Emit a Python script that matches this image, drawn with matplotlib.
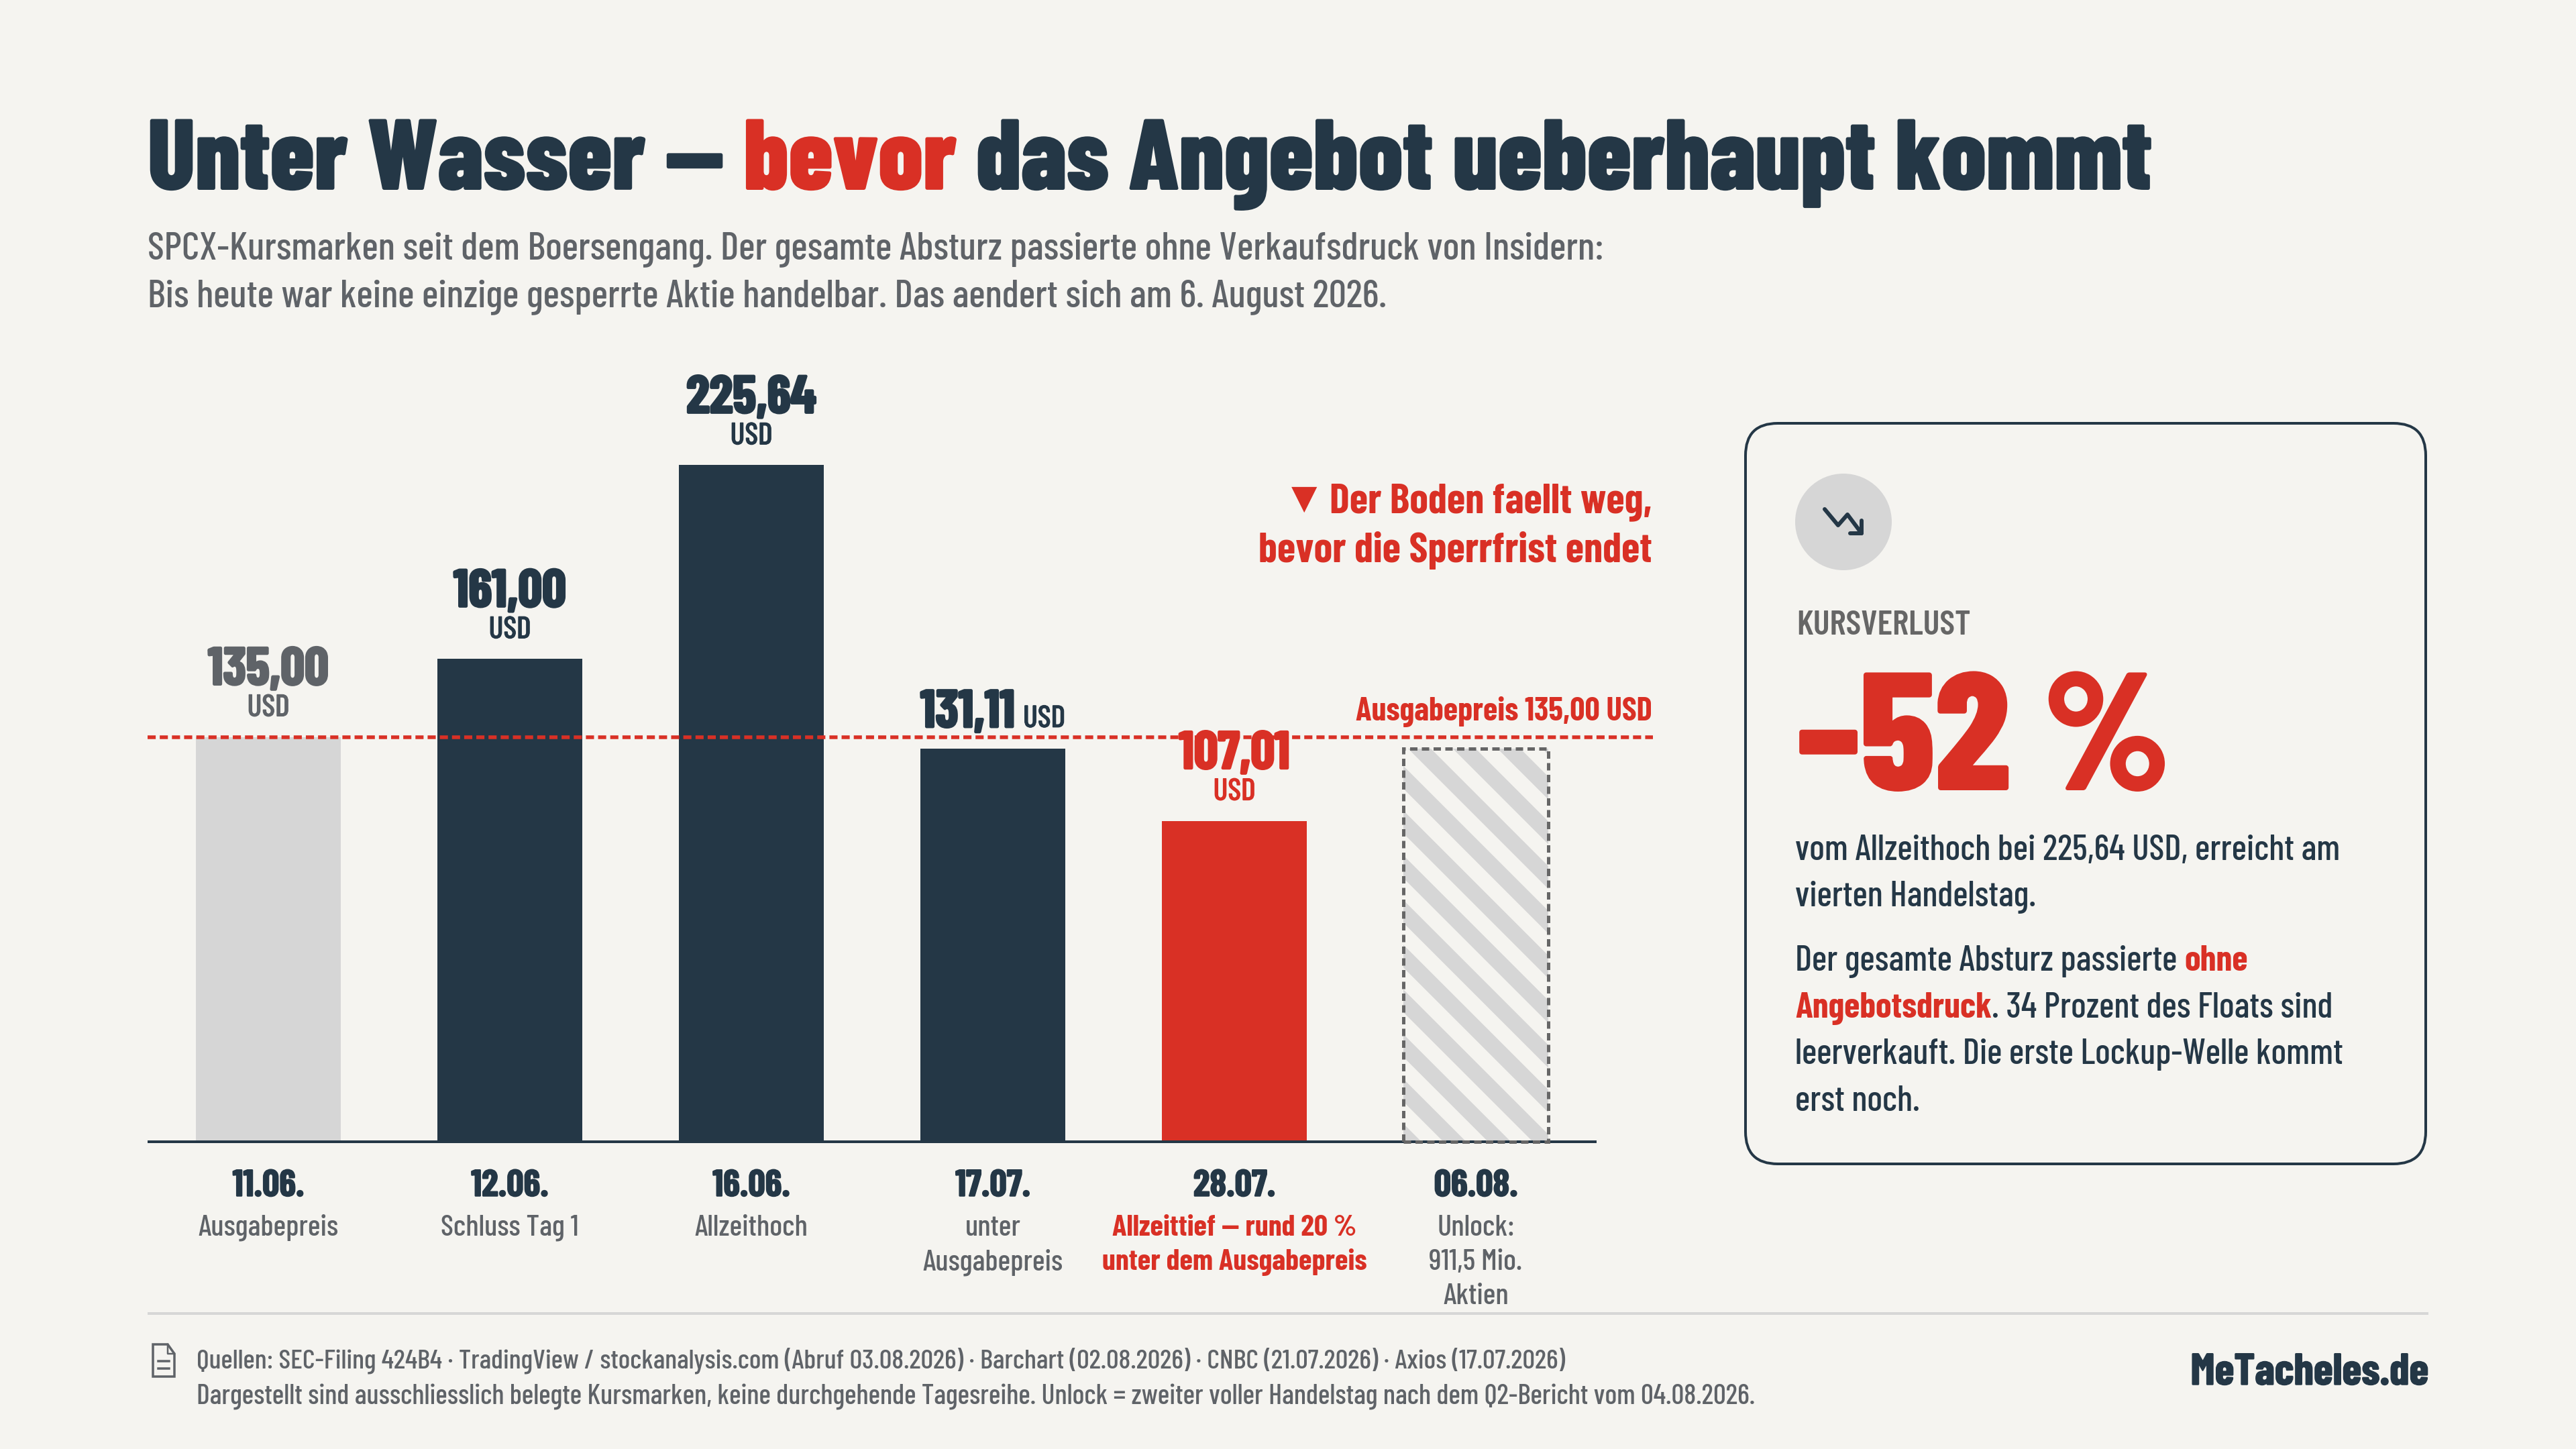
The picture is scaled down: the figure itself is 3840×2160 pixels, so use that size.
import matplotlib
matplotlib.use("Agg")
import matplotlib.pyplot as plt
import matplotlib.patheffects as pe
from matplotlib.patches import FancyBboxPatch, Circle, Polygon

# data
dates = ["11.06.", "12.06.", "16.06.", "17.07.", "28.07.", "06.08."]
prices = [135.00, 161.00, 225.64, 131.11, 107.01, 131.11]
price_labels = ["135,00", "161,00", "225,64", "131,11", "107,01", ""]
sub_labels = ["Ausgabepreis", "Schluss Tag 1", "Allzeithoch", "unter\nAusgabepreis",
              "Allzeittief — rund 20 %\nunter dem Ausgabepreis", "Unlock:\n911,5 Mio.\nAktien"]
issue_price = 135.00

DARK = "#243746"
RED = "#d93025"
BG = "#f5f4f0"
LIGHT = "#d6d6d6"
GREY = "#5f6368"

DPI = 400
PX = 72 / DPI  # one pixel of the 3840x2160 picture in points
plt.rcParams["font.family"] = ["Barlow Condensed", "Roboto Condensed", "DejaVu Sans"]
plt.rcParams["hatch.linewidth"] = 24 * PX

fig = plt.figure(figsize=(9.6, 5.4), dpi=DPI, facecolor=BG)

# overlay in picture pixels for all the layout text
page = fig.add_axes([0, 0, 1, 1])
page.set_xlim(0, 3840)
page.set_ylim(2160, 0)
page.axis("off")

# chart axes, 4.47 px per USD
base_y = 1702
top_y = 600
ax = fig.add_axes([220 / 3840, 1 - base_y / 2160, 2160 / 3840, (base_y - top_y) / 2160])
ax.patch.set_alpha(0)
ax.set_xlim(-0.5, 5.5)
ax.set_ylim(0, (base_y - top_y) / 4.47)
ax.set_xticks([])
ax.set_yticks([])
for s in ["top", "left", "right"]:
    ax.spines[s].set_visible(False)
ax.spines["bottom"].set_color(DARK)
ax.spines["bottom"].set_linewidth(4 * PX)
ax.spines["bottom"].set_capstyle("butt")

colors = [LIGHT, DARK, DARK, DARK, RED]
ax.bar(range(5), prices[:5], width=0.6, color=colors, linewidth=0, zorder=2)
ax.bar(5, prices[5], width=0.6, facecolor="none", edgecolor=LIGHT, hatch="\\\\", linewidth=0, zorder=2)
ax.bar(5, prices[5], width=0.6, facecolor="none", edgecolor="#666666", linewidth=5 * PX,
       linestyle=(0, (2.2, 1.3)), zorder=3, clip_on=False)
ax.plot([-0.5, 5.733], [issue_price, issue_price], color=RED, lw=5.5 * PX,
        linestyle=(0, (2.2, 1.1)), clip_on=False, zorder=4)


def label(x, y, txt, dy, size, color, weight="bold", stroke=0, dx=0, ha="center"):
    t = ax.annotate(txt, xy=(x, y), xytext=(dx * PX, dy * PX), textcoords="offset points",
                    ha=ha, va="baseline", fontsize=size * PX, color=color, weight=weight,
                    annotation_clip=False, zorder=6)
    if stroke:
        t.set_path_effects([pe.withStroke(linewidth=stroke * PX, foreground=color)])
    return t


value_colors = [GREY, DARK, DARK, DARK, RED]
for i in [0, 1, 2, 4]:
    label(i, prices[i], price_labels[i], 78, 79, value_colors[i], stroke=3)
    label(i, prices[i], "USD", 31, 46, value_colors[i], weight=500, stroke=1)
label(3, prices[3], price_labels[3], 32, 79, DARK, stroke=3, dx=-108, ha="left")
label(3, prices[3], "USD", 32, 46, DARK, weight=500, stroke=1, dx=108, ha="right")

for i in range(6):
    label(i, 0, dates[i], -81, 56, DARK, stroke=1.5)
    is_red = i == 4
    for j, line in enumerate(sub_labels[i].split("\n")):
        label(i, 0, line, -140 - 51 * j, 44.6, RED if is_red else GREY,
              weight="bold" if is_red else 500)


def put(x, y, txt, size, color, weight=500, ha="left", stroke=0):
    t = page.text(x, y, txt, fontsize=size * PX, color=color, weight=weight, ha=ha, va="baseline")
    if stroke:
        t.set_path_effects([pe.withStroke(linewidth=stroke * PX, foreground=color)])
    return t


def text_width(txt, size, weight):
    t = page.text(0, 0, txt, fontsize=size * PX, weight=weight)
    w = t.get_window_extent(fig.canvas.get_renderer()).width
    t.remove()
    return w


def runs(x, y, parts, size, stroke=0):
    # several colours and weights on one line
    off = 0
    for txt, color, weight in parts:
        put(x + off, y, txt, size, color, weight, stroke=stroke)
        off += text_width(txt + "x", size, weight) - text_width("x", size, weight)


# header
runs(220, 282, [("Unter Wasser — ", DARK, 800), ("bevor", RED, 800),
                (" das Angebot ueberhaupt kommt", DARK, 800)], 148, stroke=2)
put(220, 386, "SPCX-Kursmarken seit dem Boersengang. Der gesamte Absturz passierte ohne Verkaufsdruck von Insidern:", 58.2, GREY)
put(220, 457, "Bis heute war keine einzige gesperrte Aktie handelbar. Das aendert sich am 6. August 2026.", 58.2, GREY)

# annotations in the chart
put(1963, 758, "▼", 50, RED, "bold", "right")
put(2463, 764, "Der Boden faellt weg,", 62.6, RED, "bold", "right")
put(2463, 838, "bevor die Sperrfrist endet", 62.6, RED, "bold", "right")
put(2463, 1074, "Ausgabepreis 135,00 USD", 49, RED, "bold", "right")

# card
page.add_patch(FancyBboxPatch((2602 + 48, 631 + 48), 1014 - 96, 1104 - 96,
                              boxstyle="round,pad=48,rounding_size=48",
                              fc="none", ec=DARK, lw=4 * PX))
page.add_patch(Circle((2748, 778), 72, fc=LIGHT, ec="none"))
page.plot([2720, 2740, 2754, 2775], [759, 783, 767, 795], color=DARK, lw=6 * PX,
          solid_capstyle="round", solid_joinstyle="round")
page.plot([2775, 2775, 2758], [776, 795, 795], color=DARK, lw=6 * PX,
          solid_capstyle="round", solid_joinstyle="round")
put(2678, 946, "KURSVERLUST", 52, "#666666", 600)
put(2678, 1177, "–52 %", 248, RED, 800, stroke=2)
put(2676, 1282, "vom Allzeithoch bei 225,64 USD, erreicht am", 53.4, DARK)
put(2676, 1351, "vierten Handelstag.", 53.4, DARK)
runs(2676, 1447, [("Der gesamte Absturz passierte ", DARK, 500), ("ohne", RED, "bold")], 53.4)
runs(2676, 1517, [("Angebotsdruck", RED, "bold"), (". 34 Prozent des Floats sind", DARK, 500)], 53.4)
put(2676, 1586, "leerverkauft. Die erste Lockup-Welle kommt", 53.4, DARK)
put(2676, 1656, "erst noch.", 53.4, DARK)

# footer
page.plot([220, 3620], [1958, 1958], color=LIGHT, lw=4 * PX, solid_capstyle="butt")
page.add_patch(Polygon([(228, 2004), (250, 2004), (260, 2018), (260, 2052), (228, 2052)],
                       closed=True, fc="none", ec=GREY, lw=3.5 * PX))
page.plot([250, 250, 260], [2004, 2018, 2018], color=GREY, lw=2.5 * PX)
page.plot([236, 252], [2029, 2029], color=GREY, lw=3.5 * PX)
page.plot([236, 252], [2040, 2040], color=GREY, lw=3.5 * PX)
put(293, 2040, "Quellen: SEC-Filing 424B4 · TradingView / stockanalysis.com (Abruf 03.08.2026) · Barchart (02.08.2026) · CNBC (21.07.2026) · Axios (17.07.2026)", 41.4, GREY)
put(293, 2093, "Dargestellt sind ausschliesslich belegte Kursmarken, keine durchgehende Tagesreihe. Unlock = zweiter voller Handelstag nach dem Q2-Bericht vom 04.08.2026.", 42, GREY)
put(3620, 2064, "MeTacheles.de", 66, DARK, "bold", "right", stroke=1.5)

fig.savefig("out.png", dpi=DPI, facecolor=BG)
